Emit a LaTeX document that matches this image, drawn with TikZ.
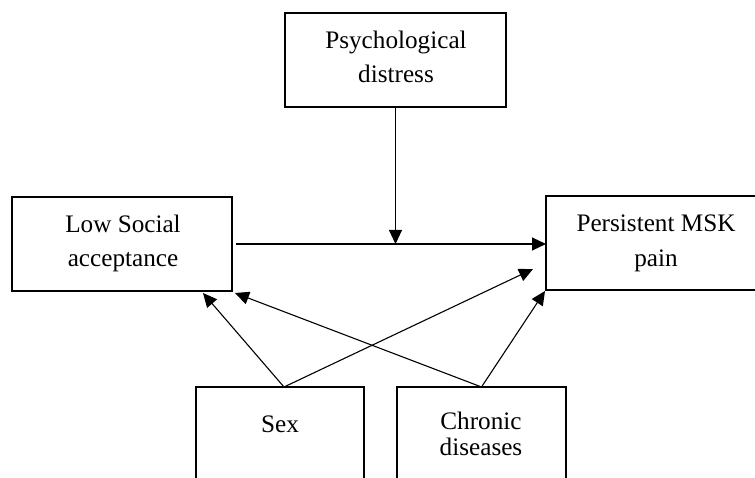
\documentclass[tikz,border=0pt]{standalone}
\usepackage{fontspec}
\setmainfont{Liberation Serif}
\usetikzlibrary{arrows.meta}
\begin{document}
\begin{tikzpicture}[x=1pt,y=-1pt,
  box/.style={draw, line width=2.4pt, inner sep=0pt, outer sep=0pt},
  lbl/.style={anchor=base, inner sep=0pt, font=\fontsize{25.2}{30}\selectfont},
  conn/.style={line width=1.1pt, -{Triangle[length=14pt,width=13pt]}}]
\useasboundingbox (0,0) rectangle (755,478);
\clip (0,0) rectangle (755,478);
% boxes
\node[box, minimum width=221pt, minimum height=94pt] (psy) at (395.5,60) {};
\node[box, minimum width=220pt, minimum height=94pt] (low) at (122,244) {};
\node[box, minimum width=216pt, minimum height=94pt] (per) at (654,243) {};
\node[box, minimum width=168pt, minimum height=113pt] (sex) at (280,443.5) {};
\node[box, minimum width=169pt, minimum height=113pt] (chr) at (481.5,443.5) {};
% labels
\node[lbl] (psy1) at (396,49) {Psychological};
\node[lbl] (psy2) at (396,83) {distress};
\node[lbl] (low1) at (123,233) {Low Social};
\node[lbl] (low2) at (123,267) {acceptance};
\node[lbl] (per1) at (656,232) {Persistent MSK};
\node[lbl] (per2) at (656,267) {pain};
\node[lbl] (sex1) at (280,432) {Sex};
\node[lbl] (chr1) at (481,429) {Chronic};
\node[lbl] (chr2) at (481,455) {diseases};
% connectors
\coordinate (m) at (psy.south |- low.east);
\draw[line width=1.1pt] ([xshift=4pt]low.east) -- (m);
\draw[conn] (m) -- (low.east -| per.west);
\draw[conn] (psy.south) -- (m);
\coordinate (sextop) at ([xshift=4pt]sex.north);
\coordinate (lowA) at ([xshift=191pt,yshift=-2pt]low.south west);
\coordinate (lowB) at ([xshift=3pt,yshift=-2pt]low.south east);
\coordinate (perA) at ([xshift=-13pt,yshift=-26pt]per.west);
\coordinate (perB) at ([xshift=-1pt,yshift=-1pt]per.south west);
\draw[conn] (sextop) -- (lowA);
\draw[conn] (sextop) -- (perA);
\draw[conn] (chr.north) -- (lowB);
\draw[conn] (chr.north) -- (perB);
\end{tikzpicture}
\end{document}
